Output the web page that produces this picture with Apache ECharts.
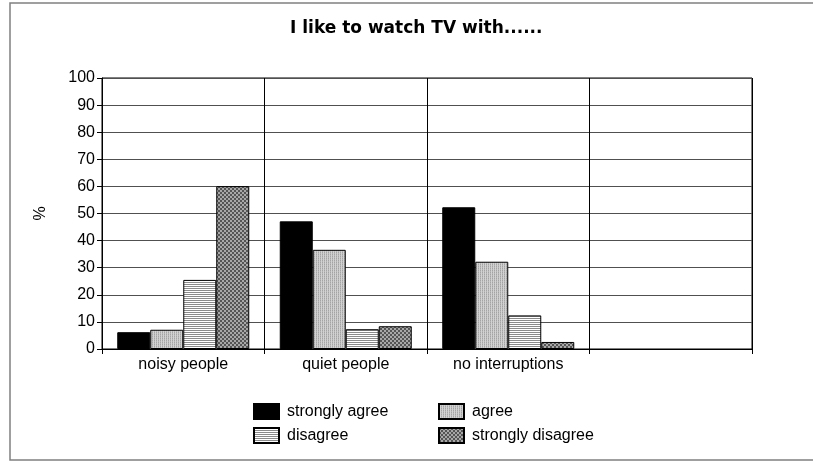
<!DOCTYPE html>
<html>
<head>
<meta charset="utf-8">
<script src="https://cdn.jsdelivr.net/npm/echarts@6/dist/echarts.min.js"></script>
<style>
html,body{margin:0;padding:0;background:#fff;}
#chart{width:813px;height:461px;}
</style>
</head>
<body>
<div id="chart"></div>
<script>
var categories = ['noisy people', 'quiet people', 'no interruptions', ''];
var seriesNames = ['strongly agree', 'agree', 'disagree', 'strongly disagree'];
var stronglyAgree = [6.2, 47.1, 52.3, null];
var agree = [7.1, 36.6, 32.2, null];
var disagree = [25.5, 7.3, 12.4, null];
var stronglyDisagree = [60.1, 8.4, 2.6, null];
var yTicks = [0, 10, 20, 30, 40, 50, 60, 70, 80, 90, 100];

function makePattern(w, h, draw) {
  var c = document.createElement('canvas');
  c.width = w; c.height = h;
  var ctx = c.getContext('2d');
  draw(ctx);
  return { image: c, repeat: 'repeat' };
}
var patAgree = makePattern(2, 2, function (ctx) {
  ctx.fillStyle = '#a4a4a4'; ctx.fillRect(0, 0, 1, 2);
  ctx.fillStyle = '#d2d2d2'; ctx.fillRect(1, 0, 1, 2);
  ctx.fillStyle = '#b8b8b8'; ctx.fillRect(0, 1, 1, 1);
});
var patDisagree = makePattern(2, 2, function (ctx) {
  ctx.fillStyle = '#ffffff'; ctx.fillRect(0, 0, 2, 2);
  ctx.fillStyle = '#8a8a8a'; ctx.fillRect(0, 0, 2, 1);
});
var patStrongDis = makePattern(4, 4, function (ctx) {
  ctx.fillStyle = '#a8a8a8'; ctx.fillRect(0, 0, 4, 4);
  ctx.fillStyle = '#555555'; ctx.fillRect(0, 0, 2, 2); ctx.fillRect(2, 2, 2, 2);
});

var fills = ['#000000', patAgree, patDisagree, patStrongDis];
var values = [stronglyAgree, agree, disagree, stronglyDisagree];

var chart = echarts.init(document.getElementById('chart'), null, { renderer: 'canvas' });
var font = 'Liberation Sans, Arial, sans-serif';

var series = seriesNames.map(function (name, i) {
  return {
    name: name,
    type: 'bar',
    data: values[i],
    barWidth: 33,
    barGap: '0%',
    itemStyle: { color: fills[i], borderColor: '#000', borderWidth: 1 },
    emphasis: { disabled: true },
    animation: false
  };
});

chart.setOption({
  animation: false,
  backgroundColor: '#ffffff',
  textStyle: { fontFamily: font },
  graphic: [{
    type: 'rect',
    shape: { x: 10, y: 3, width: 830, height: 457 },
    style: { fill: 'none', stroke: '#808080', lineWidth: 1.5 },
    silent: true,
    z: -10
  }],
  title: {
    text: 'I like to watch TV with......',
    left: 290,
    top: 20,
    padding: 0,
    textStyle: { fontFamily: 'DejaVu Sans', fontWeight: 'bold', fontSize: 17, color: '#000' }
  },
  legend: [{
    data: ['strongly agree', 'disagree'],
    orient: 'vertical',
    left: 253,
    top: 403,
    padding: 0,
    itemWidth: 25,
    itemHeight: 15,
    itemGap: 7,
    icon: 'rect',
    selectedMode: false,
    textStyle: { fontFamily: font, fontSize: 16, color: '#000', padding: [0, 0, 0, 3] }
  }, {
    data: ['agree', 'strongly disagree'],
    orient: 'vertical',
    left: 438,
    top: 403,
    padding: 0,
    itemWidth: 25,
    itemHeight: 15,
    itemGap: 7,
    icon: 'rect',
    selectedMode: false,
    textStyle: { fontFamily: font, fontSize: 16, color: '#000', padding: [0, 0, 0, 3] }
  }],
  grid: {
    left: 102, right: 61, top: 78, bottom: 112,
    show: true, borderColor: '#000', borderWidth: 1,
    containLabel: false
  },
  xAxis: {
    type: 'category',
    data: categories,
    boundaryGap: true,
    axisLine: { show: true, lineStyle: { color: '#000', width: 1 } },
    axisTick: { show: true, length: 5, alignWithLabel: false, lineStyle: { color: '#000' } },
    axisLabel: { fontFamily: font, fontSize: 16, color: '#000', margin: 8, interval: 0 },
    splitLine: { show: true, lineStyle: { color: '#000', width: 1 } }
  },
  yAxis: {
    type: 'value',
    min: yTicks[0],
    max: yTicks[yTicks.length - 1],
    interval: 10,
    name: '%',
    nameLocation: 'middle',
    nameGap: 53,
    nameRotate: 90,
    nameTextStyle: { fontFamily: font, fontSize: 16, color: '#000' },
    axisLine: { show: true, lineStyle: { color: '#000', width: 1 } },
    axisTick: { show: true, length: 5, lineStyle: { color: '#000' } },
    axisLabel: { fontFamily: font, fontSize: 16, color: '#000', margin: 7 },
    splitLine: { show: true, lineStyle: { color: '#505050', width: 1 } }
  },
  series: series
});
</script>
</body>
</html>
